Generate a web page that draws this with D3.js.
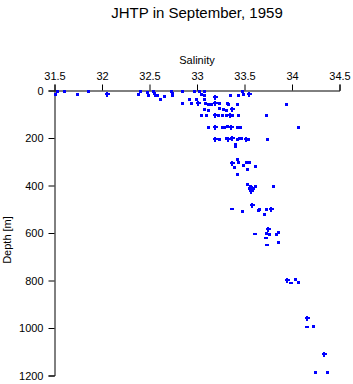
<!DOCTYPE html>
<html>
<head>
<meta charset="utf-8">
<script src="https://cdn.jsdelivr.net/npm/d3@7"></script>
<style>
  body { margin: 0; background: #fff; }
  text { font-family: "Liberation Sans", Arial, sans-serif; fill: #000; }
</style>
</head>
<body>
<div id="chart"></div>
<script>
// salinity / depth pairs
const squareSal = [31.505, 31.526, 31.600, 31.740, 31.849, 32.382, 32.400, 32.471, 32.479, 32.540,
  32.551, 32.558, 32.576, 32.611, 32.656, 32.726, 32.734, 32.740, 32.847, 32.919,
  32.972, 32.993, 33.024, 33.037, 33.077, 33.077, 33.077, 33.347, 33.435, 33.471, 33.487,
  32.839, 32.942, 33.084, 33.119, 33.147, 33.235, 33.313, 33.329, 33.426, 33.937,
  33.077, 33.119, 33.235, 33.277, 33.302,
  33.039, 33.095, 33.224, 33.260, 33.302, 33.368, 33.435, 33.726,
  33.119, 33.260, 33.287, 33.313, 33.418, 33.453, 34.066,
  33.235, 33.305, 33.418, 33.447, 33.463, 33.537, 33.732, 33.395, 33.405,
  33.416, 33.435, 33.511, 33.551, 33.393, 33.487, 33.529, 33.614, 33.418,
  33.529, 33.558, 33.544, 33.572, 33.593, 33.614, 33.797,
  33.477, 33.639, 33.656, 33.726, 33.708,
  33.726, 33.761, 33.832, 33.856, 33.856,
  34.035, 34.066,
  34.218, 34.245, 34.372];
const squareDepth = [13, 2, 1, 13, 1, 13, 1, 8, 19, 1,
  10, 19, 19, 35, 22, 1, 10, 21, 1, 35,
  1, 35, 1, 14, 1, 18, 35, 21, 18, 1, 15,
  53, 53, 53, 55, 55, 53, 53, 56, 55, 56,
  77, 84, 74, 79, 81,
  102, 102, 102, 102, 102, 102, 102, 102,
  152, 152, 152, 150, 152, 152, 152,
  203, 198, 203, 198, 200, 203, 203, 225, 232,
  288, 302, 303, 303, 320, 313, 330, 317, 351,
  393, 402, 410, 408, 410, 400, 403,
  507, 502, 497, 501, 519,
  599, 603, 603, 597, 637,
  795, 807,
  991, 1184, 1184];

const plusSal = [32.049, 33.189, 33.547, 33.007, 33.189, 33.365, 33.189, 33.347, 33.189, 33.355,
  33.189, 33.329, 33.365, 33.516, 33.365, 33.565, 33.576, 33.776, 33.744, 33.944,
  34.155, 34.334];
const plusDepth = [13, 27, 14, 53, 53, 77, 102, 102, 152, 152,
  203, 203, 198, 203, 305, 425, 484, 501, 582, 797,
  957, 1109];

const dashSal = [33.365, 33.611, 33.726, 33.734, 33.993, 34.155];
const dashDepth = [501, 606, 622, 650, 811, 997];

const salTicks = [31.5, 32, 32.5, 33, 33.5, 34, 34.5];
const depthTicks = [0, 200, 400, 600, 800, 1000, 1200];

const width = 353, height = 384;
const plotLeft = 54.5, plotRight = 339.5, plotTop = 90.5, plotBottom = 375.5;
const blue = '#0000ff';

const svg = d3.select('#chart').append('svg')
  .attr('width', width)
  .attr('height', height);

const x = d3.scaleLinear().domain([31.5, 34.5]).range([plotLeft, plotRight]);
const y = d3.scaleLinear().domain([0, 1200]).range([plotTop, plotBottom]);

// title
svg.append('text')
  .attr('x', 197)
  .attr('y', 18)
  .attr('text-anchor', 'middle')
  .attr('font-size', 15)
  .text('JHTP in September, 1959');

// x axis on top
const xAxis = svg.append('g')
  .attr('transform', `translate(0,${plotTop})`)
  .call(d3.axisTop(x).tickValues(salTicks).tickSize(6).tickPadding(5)
    .tickFormat(d3.format('')));
xAxis.select('.domain').attr('stroke', '#000');
xAxis.selectAll('text').attr('font-size', 11);

svg.append('text')
  .attr('x', 197)
  .attr('y', 64)
  .attr('text-anchor', 'middle')
  .attr('font-size', 11)
  .text('Salinity');

// y axis
const yAxis = svg.append('g')
  .attr('transform', `translate(${plotLeft},0)`)
  .call(d3.axisLeft(y).tickValues(depthTicks).tickSize(6).tickPadding(5)
    .tickFormat(d3.format('d')));
yAxis.select('.domain').attr('stroke', '#000');
yAxis.selectAll('text').attr('font-size', 11);

svg.append('text')
  .attr('transform', 'translate(11,240) rotate(-90)')
  .attr('text-anchor', 'middle')
  .attr('font-size', 11)
  .text('Depth [m]');

// markers
const pts = svg.append('g').attr('shape-rendering', 'crispEdges');

pts.selectAll('rect.sq')
  .data(d3.range(squareSal.length))
  .enter().append('rect')
  .attr('class', 'sq')
  .attr('x', i => Math.round(x(squareSal[i])) - 1.5)
  .attr('y', i => Math.round(y(squareDepth[i])) - 1.5)
  .attr('width', 3)
  .attr('height', 3)
  .attr('fill', blue);

pts.selectAll('rect.dash')
  .data(d3.range(dashSal.length))
  .enter().append('rect')
  .attr('class', 'dash')
  .attr('x', i => Math.round(x(dashSal[i])) - 2)
  .attr('y', i => Math.round(y(dashDepth[i])) - 1)
  .attr('width', 4)
  .attr('height', 2)
  .attr('fill', blue);

const plus = pts.selectAll('g.plus')
  .data(d3.range(plusSal.length))
  .enter().append('g')
  .attr('class', 'plus')
  .attr('transform', i => `translate(${Math.round(x(plusSal[i]))},${Math.round(y(plusDepth[i]))})`);
plus.append('rect').attr('x', -2.5).attr('y', -1).attr('width', 5).attr('height', 2).attr('fill', blue);
plus.append('rect').attr('x', -1).attr('y', -2.5).attr('width', 2).attr('height', 5).attr('fill', blue);
</script>
</body>
</html>
